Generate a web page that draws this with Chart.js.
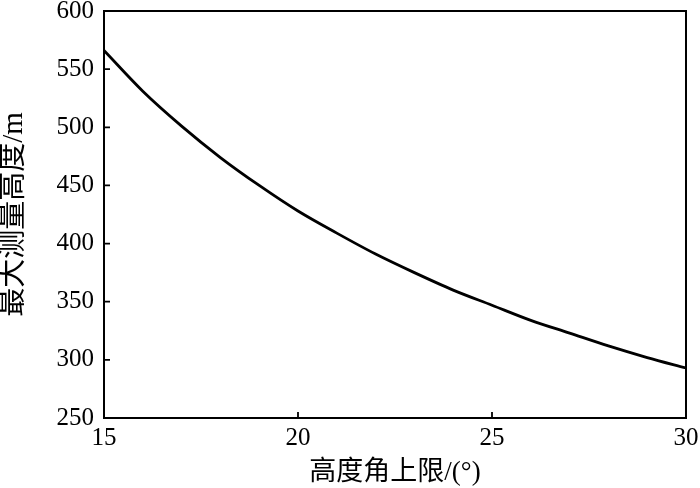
<!DOCTYPE html>
<html><head><meta charset="utf-8">
<script src="https://cdn.jsdelivr.net/npm/chart.js@4"></script>
<style>html,body{margin:0;padding:0;background:#fff}#wrap{width:700px;height:488px}</style>
</head><body><div id="wrap"><canvas id="c" width="700" height="488"></canvas></div>
<script>
const angles = [15,16,17,18,19,20,21,22,23,24,25,26,27,28,29,30];
const heights = [566,531,501,474,450,428,409,391,375,360,347,334,323,312,302,293];
const xTicks = [15,20,25,30];
const yTicks = [250,300,350,400,450,500,550,600];
const xTitle = '高度角上限/(°)';
const yTitle = '最大测量高度/m';

const serif = '"Liberation Serif", "Noto Sans CJK SC", serif';
const frame = {
  id:'frame',
  afterDraw(chart){
    const {ctx, chartArea:a, scales:{x,y}} = chart;
    ctx.save();
    ctx.strokeStyle='#000'; ctx.lineWidth=1.8;
    ctx.beginPath();
    xTicks.forEach(v=>{const p=x.getPixelForValue(v); ctx.moveTo(p,a.bottom); ctx.lineTo(p,a.bottom-6);});
    yTicks.forEach(v=>{const p=y.getPixelForValue(v); ctx.moveTo(a.left,p); ctx.lineTo(a.left+6,p);});
    ctx.stroke();
    ctx.lineWidth=2;
    ctx.strokeRect(a.left,a.top,a.right-a.left,a.bottom-a.top);
    ctx.restore();
  }
};
new Chart(document.getElementById('c'),{
  type:'line',
  data:{datasets:[{data:angles.map((a,i)=>({x:a,y:heights[i]})),borderColor:'#000',borderWidth:2.8,pointRadius:0,cubicInterpolationMode:'monotone',fill:false}]},
  options:{
    responsive:false,animation:false,
    layout:{padding:{left:0,right:14,top:11,bottom:0}},
    plugins:{legend:{display:false},tooltip:{enabled:false}},
    scales:{
      x:{type:'linear',min:15,max:30,
        afterBuildTicks(s){s.ticks=xTicks.map(v=>({value:v}));},
        afterFit(s){s.height=70;s.paddingLeft=0;s.paddingRight=0;},
        grid:{display:false,drawTicks:false},border:{display:false},
        ticks:{color:'#000',padding:5,font:{family:serif,size:25},maxRotation:0,autoSkip:false},
        title:{display:true,text:xTitle,color:'#000',font:{family:serif,size:27,lineHeight:1.1},padding:{top:0,bottom:0}}
      },
      y:{type:'linear',min:250,max:600,
        afterBuildTicks(s){s.ticks=yTicks.map(v=>({value:v}));},
        afterFit(s){s.width=104;s.paddingTop=0;s.paddingBottom=0;},
        grid:{display:false,drawTicks:false},border:{display:false},
        ticks:{color:'#000',padding:10,font:{family:serif,size:25},autoSkip:false},
        title:{display:true,text:yTitle,color:'#000',font:{family:serif,size:29,lineHeight:1},padding:{top:0,bottom:0}}
      }
    }
  },
  plugins:[frame]
});
</script></body></html>
